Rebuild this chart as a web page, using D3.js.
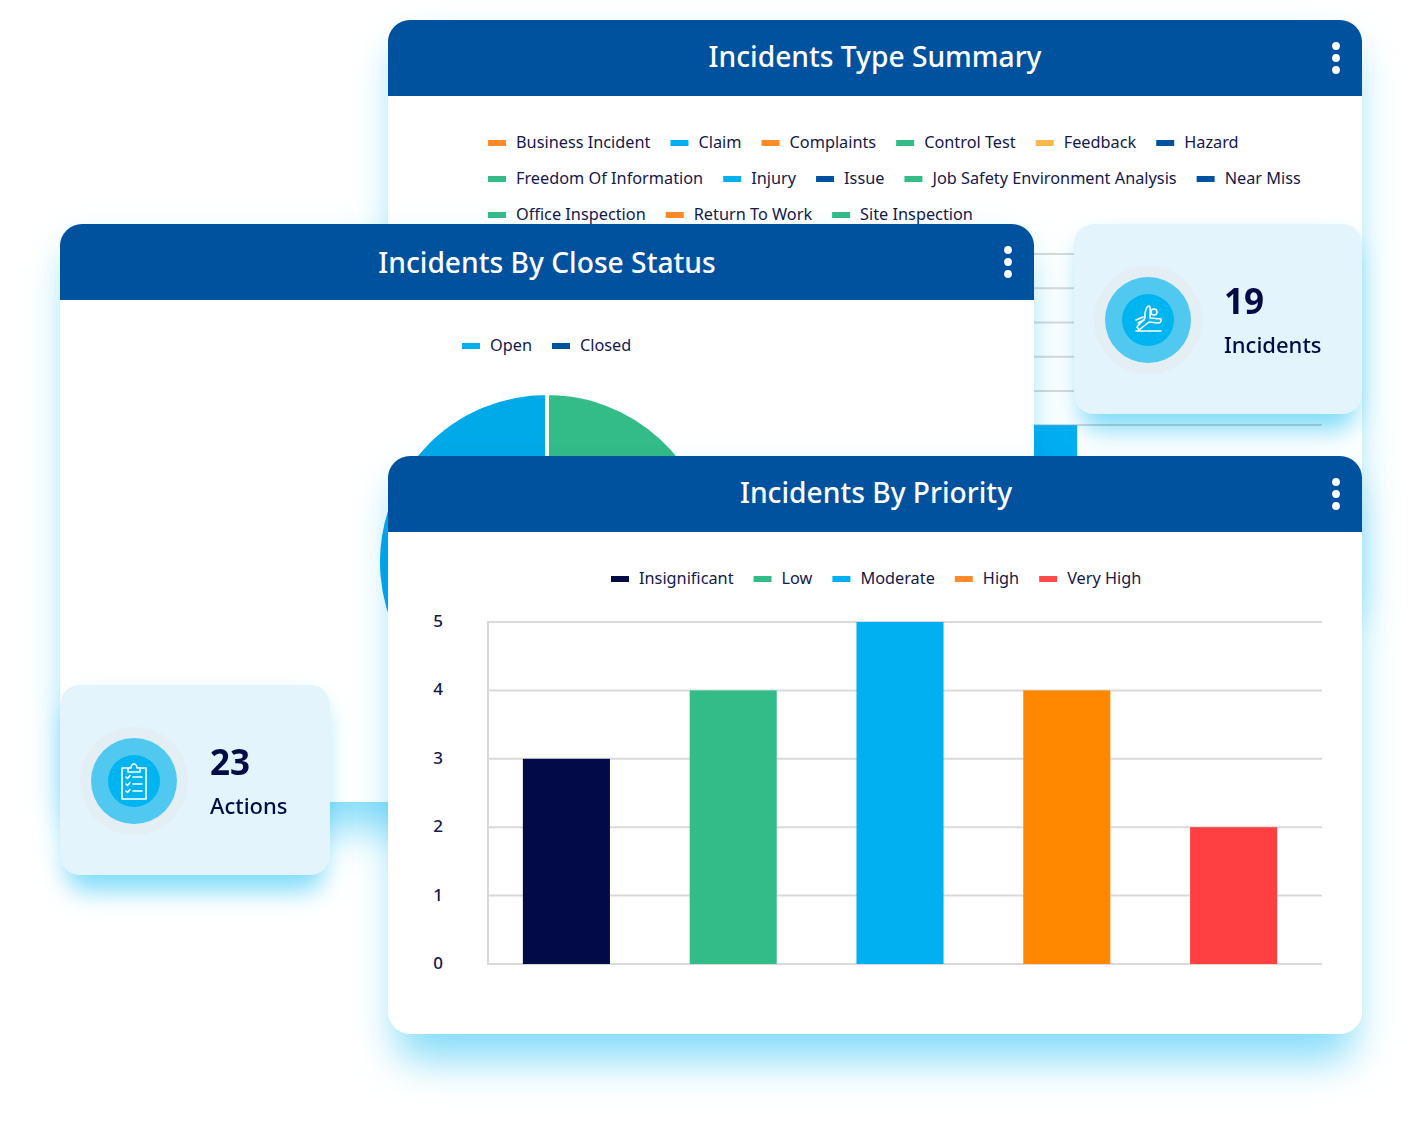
<!DOCTYPE html>
<html><head><meta charset="utf-8">
<script src="https://cdn.jsdelivr.net/npm/d3@7"></script>
<style>
html,body{margin:0;padding:0;background:#fff}
svg{display:block;background:#fff}
text{font-family:"Noto Sans",sans-serif;fill:#14184a}
.shadow{mix-blend-mode:multiply}
</style></head><body>
<svg id="c" width="1422" height="1134"></svg>
<script>
// ---- data ----
const typeLegendRows = [
  [["Business Incident","#ff8a2a"],["Claim","#00b0f0"],["Complaints","#ff8a2a"],["Control Test","#33bb88"],["Feedback","#f6b84e"],["Hazard","#00529f"]],
  [["Freedom Of Information","#33bb88"],["Injury","#00b0f0"],["Issue","#00529f"],["Job Safety Environment Analysis","#33bb88"],["Near Miss","#00529f"]],
  [["Office Inspection","#33bb88"],["Return To Work","#ff8a2a"],["Site Inspection","#33bb88"]]
];
const typeCategories = ["Business Incident","Claim","Complaints","Control Test","Feedback","Hazard","Freedom Of Information","Issue","Job Safety Environment Analysis","Injury","Near Miss","Office Inspection","Return To Work","Site Inspection"];
const typeValues = [1,1,1,1,1,2,1,0,1,4,2,1,1,2];
const typeColors = ["#ff8a2a","#00b0f0","#ff8a2a","#33bb88","#f6b84e","#00529f","#33bb88","#00529f","#33bb88","#00b0f0","#00529f","#33bb88","#ff8a2a","#33bb88"];
const typeTicks = [0,1,2,3,4,5,6,7,8,9];

const statusNames = ["Open","Closed"];
const statusLegendColors = ["#00b0f0","#00529f"];
const statusValues = [9,10];
const statusSliceColors = ["#33bb88","#00a9e8"];

const priorityNames = ["Insignificant","Low","Moderate","High","Very High"];
const priorityValues = [3,4,5,4,2];
const priorityColors = ["#020b45","#33bb88","#00b0f0","#ff8800","#ff4040"];
const priorityLegendColors = ["#020b45","#33bb88","#00b0f0","#ff8a2a","#ff4a4a"];
const priorityTicks = [0,1,2,3,4,5];

const statCards = [
  {value:"19",label:"Incidents",icon:"fall"},
  {value:"23",label:"Actions",icon:"clip"}
];

// ---- helpers ----
const svg = d3.select("#c");
const defs = svg.append("defs");
const W=1422,H=1134;
[["blurL",20],["blurS",12]].forEach(([id,s])=>{
  defs.append("filter").attr("id",id).attr("filterUnits","userSpaceOnUse")
    .attr("x",0).attr("y",0).attr("width",W).attr("height",H)
    .append("feGaussianBlur").attr("stdDeviation",s);
});
const HEAD="#00529f", CW=974, CH=578, HH=76, R=22;

function card(id,x,y,title,titleX,titleDy){
  svg.append("rect").attr("class","shadow").attr("x",x+8).attr("y",y+26).attr("width",CW-16).attr("height",CH)
    .attr("rx",R).attr("fill","#85ddf9").attr("filter","url(#blurL)");
  defs.append("clipPath").attr("id",id).append("rect")
    .attr("x",x).attr("y",y).attr("width",CW).attr("height",CH).attr("rx",R);
  const g = svg.append("g").attr("clip-path",`url(#${id})`);
  g.append("rect").attr("x",x).attr("y",y).attr("width",CW).attr("height",CH).attr("fill","#fff");
  const content = g.append("g");
  g.append("rect").attr("x",x).attr("y",y).attr("width",CW).attr("height",HH).attr("fill",HEAD);
  g.append("text").attr("x",titleX).attr("y",y+titleDy).attr("dy","0.35em").attr("text-anchor","middle")
    .style("font-size","28.2px").style("font-weight",500).style("fill","#fff").text(title);
  g.selectAll("circle.dot").data([-12,0,12]).join("circle").attr("class","dot")
    .attr("cx",x+CW-26).attr("cy",d=>y+38+d).attr("r",3.9).attr("fill","#fff");
  return content;
}
function legendRow(g,items,x0,y,gap){
  let x=x0;
  items.forEach(([name,col])=>{
    g.append("rect").attr("x",x).attr("y",y-3).attr("width",18).attr("height",6).attr("fill",col);
    const t=g.append("text").attr("x",x+28).attr("y",y-1).attr("dy","0.35em")
      .style("font-size","16.3px").text(name);
    x+=28+t.node().getComputedTextLength()+gap;
  });
}
function styleAxis(ax){
  ax.select(".domain").remove();
  ax.selectAll(".tick line").remove();
  ax.selectAll("text").style("font-size","17px").style("font-weight",500)
    .attr("text-anchor","middle").attr("x",0).attr("dy","0.27em");
}
function statCard(x,y,d,cx,cy,tx){
  const w=d.icon==="fall"?288:270,h=190;
  svg.append("rect").attr("class","shadow").attr("x",x+6).attr("y",y+16).attr("width",w-12).attr("height",h)
    .attr("rx",20).attr("fill","#80dcf9").attr("filter","url(#blurS)");
  svg.append("rect").attr("x",x).attr("y",y).attr("width",w).attr("height",h).attr("rx",20).attr("fill","#e3f4fc");
  svg.append("circle").attr("cx",cx).attr("cy",cy).attr("r",54).attr("fill","#e4eff5");
  svg.append("circle").attr("cx",cx).attr("cy",cy).attr("r",43).attr("fill","#50c8f0");
  svg.append("circle").attr("cx",cx).attr("cy",cy).attr("r",26).attr("fill","#00b4f0");
  const ic=svg.append("g").attr("transform",`translate(${cx},${cy})`)
    .attr("fill","none").attr("stroke","#fff").attr("stroke-width",1.6)
    .attr("stroke-linecap","round").attr("stroke-linejoin","round");
  if(d.icon==="clip"){
    ic.append("path").attr("d","M-6-13H-12V18H12V-13H6M-6-13V-9H6V-13H3A3 4 0 0 0-3-13Z");
    [-4,3,10].forEach(o=>{
      ic.append("path").attr("d",`M-8 ${o}L-6.5 ${o+1.5}L-4 ${o-1.5}M-1 ${o}H8`);
    });
  } else {
    ic.append("circle").attr("cx",6).attr("cy",-8).attr("r",3);
    ic.append("path").attr("d","M-12 11H13");
    ic.append("path").attr("d","M-11 7L-3-2C-4-8-1-14 1-14C3-14 2-7 2-2L13-1C14 1 12 3 10 3L1 2L-9 10Z");
    ic.append("path").attr("d","M-12 0L-5-3M-10 3L-4 0");
  }
  svg.append("text").attr("x",tx).attr("y",cy-19).attr("dy","0.36em")
    .style("font-size","35px").style("font-weight",700).style("fill","#020b45").text(d.value);
  svg.append("text").attr("x",tx).attr("y",cy+25).attr("dy","0.36em")
    .style("font-size","22px").style("font-weight",500).style("fill","#020b45").text(d.label);
}

// ---- card 1: incidents type summary ----
const c1 = card("cp1",388,20,"Incidents Type Summary",875,37);
typeLegendRows.forEach((r,i)=>legendRow(c1,r,488,[143,179,215][i],20));
const y1 = d3.scaleLinear().domain([0,9]).range([562,254]);
const x1 = d3.scaleBand().domain(typeCategories).range([487,1321]).paddingInner(.25).paddingOuter(.05);
c1.append("g").selectAll("line").data(typeTicks).join("line")
  .attr("x1",488).attr("x2",1322).attr("y1",d=>y1(d)).attr("y2",d=>y1(d))
  .attr("stroke","#d9d9d9").attr("stroke-width",2);
c1.append("g").selectAll("rect").data(typeCategories).join("rect")
  .attr("x",d=>x1(d)).attr("width",x1.bandwidth())
  .attr("y",(d,i)=>y1(typeValues[i])).attr("height",(d,i)=>y1(0)-y1(typeValues[i]))
  .attr("fill",(d,i)=>typeColors[i]);

// ---- card 2: close status ----
const c2 = card("cp2",60,224,"Incidents By Close Status",547,39);
legendRow(c2,statusNames.map((n,i)=>[n,statusLegendColors[i]]),462,346,20);
const pie = d3.pie().sort(null);
const arc = d3.arc().innerRadius(0).outerRadius(169);
c2.append("g").attr("transform","translate(547,562)")
  .selectAll("path").data(pie(statusValues)).join("path")
  .attr("d",arc).attr("fill",(d,i)=>statusSliceColors[i]).attr("stroke","#fff").attr("stroke-width",4);

// ---- stat card 1 sits above card 1 & 2 ----
statCard(1074,224,statCards[0],1148,320,1224);

// ---- card 3: priority ----
const c3 = card("cp3",388,456,"Incidents By Priority",876,37);
legendRow(c3,priorityNames.map((n,i)=>[n,priorityLegendColors[i]]),611,579,20);
const y3 = d3.scaleLinear().domain([0,5]).range([964,622]);
const x3 = d3.scaleBand().domain(priorityNames).range([483,1317]).paddingInner(.478).paddingOuter(.239);
c3.append("g").selectAll("line").data(priorityTicks).join("line")
  .attr("x1",488).attr("x2",1322).attr("y1",d=>y3(d)).attr("y2",d=>y3(d))
  .attr("stroke","#d9d9d9").attr("stroke-width",2);
c3.append("line").attr("x1",488).attr("x2",488).attr("y1",621).attr("y2",965)
  .attr("stroke","#d9d9d9").attr("stroke-width",2);
c3.append("g").selectAll("rect").data(priorityNames).join("rect")
  .attr("x",d=>x3(d)).attr("width",x3.bandwidth())
  .attr("y",(d,i)=>y3(priorityValues[i])).attr("height",(d,i)=>y3(0)-y3(priorityValues[i]))
  .attr("fill",(d,i)=>priorityColors[i]);
const ax3 = c3.append("g").attr("transform","translate(438,0)")
  .call(d3.axisLeft(y3).tickValues(priorityTicks).tickFormat(d3.format("d")));
styleAxis(ax3);

// ---- stat card 2 ----
statCard(60,685,statCards[1],134,781,210);
</script>
</body></html>
